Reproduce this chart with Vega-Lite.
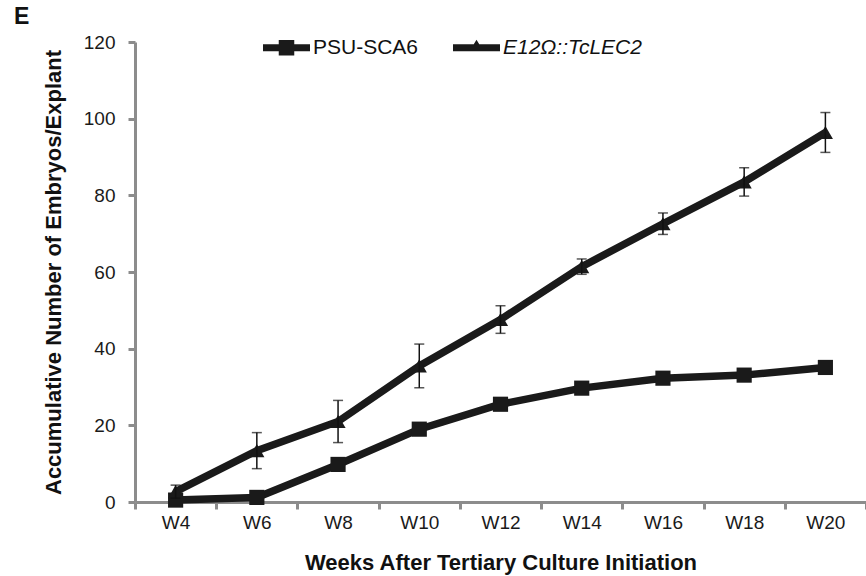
{
  "$schema": "https://vega.github.io/schema/vega-lite/v6.json",
  "width": 731,
  "height": 460,
  "autosize": {"type": "none"},
  "padding": {"left": 135, "top": 42, "right": 0, "bottom": 74},
  "background": "white",
  "title": {"text": "E", "anchor": "start", "frame": "group", "dx": -121, "offset": -23, "fontSize": 23, "fontWeight": "bold", "color": "#111111", "baseline": "alphabetic"},
  "config": {
    "font": "Liberation Sans",
    "view": {"stroke": null},
    "axis": {
      "grid": false,
      "domainColor": "#8c8c8c",
      "domainWidth": 3,
      "tickColor": "#8c8c8c",
      "tickWidth": 3,
      "tickSize": 7,
      "labelFontSize": 19,
      "labelColor": "#1a1a1a",
      "titleFontSize": 22,
      "titleFontWeight": "bold",
      "titleColor": "#111111"
    }
  },
  "data": {
    "values": [
      {"week": "W4", "series": "PSU-SCA6", "value": 0.5},
      {"week": "W6", "series": "PSU-SCA6", "value": 1.2},
      {"week": "W8", "series": "PSU-SCA6", "value": 9.8},
      {"week": "W10", "series": "PSU-SCA6", "value": 19.0},
      {"week": "W12", "series": "PSU-SCA6", "value": 25.5},
      {"week": "W14", "series": "PSU-SCA6", "value": 29.7},
      {"week": "W16", "series": "PSU-SCA6", "value": 32.3},
      {"week": "W18", "series": "PSU-SCA6", "value": 33.1},
      {"week": "W20", "series": "PSU-SCA6", "value": 35.1},
      {"week": "W4", "series": "E12Ω::TcLEC2", "value": 2.7, "err": 1.7},
      {"week": "W6", "series": "E12Ω::TcLEC2", "value": 13.4, "err": 4.7},
      {"week": "W8", "series": "E12Ω::TcLEC2", "value": 21.0, "err": 5.5},
      {"week": "W10", "series": "E12Ω::TcLEC2", "value": 35.5, "err": 5.7},
      {"week": "W12", "series": "E12Ω::TcLEC2", "value": 47.6, "err": 3.6},
      {"week": "W14", "series": "E12Ω::TcLEC2", "value": 61.4, "err": 2.0},
      {"week": "W16", "series": "E12Ω::TcLEC2", "value": 72.6, "err": 2.8},
      {"week": "W18", "series": "E12Ω::TcLEC2", "value": 83.5, "err": 3.7},
      {"week": "W20", "series": "E12Ω::TcLEC2", "value": 96.4, "err": 5.2}
    ]
  },
  "encoding": {
    "x": {
      "field": "week",
      "type": "ordinal",
      "sort": null,
      "scale": {"type": "band", "paddingInner": 0, "paddingOuter": 0},
      "axis": {"title": "Weeks After Tertiary Culture Initiation", "labelAngle": 0, "tickBand": "extent", "labelPadding": 4, "titlePadding": 20}
    },
    "y": {
      "field": "value",
      "type": "quantitative",
      "scale": {"domain": [0, 120]},
      "axis": {"title": "Accumulative Number of Embryos/Explant", "values": [0, 20, 40, 60, 80, 100, 120], "labelPadding": 13, "titlePadding": 18}
    }
  },
  "layer": [
    {
      "mark": {"type": "line", "strokeWidth": 7.5, "color": "#1a1a1a"},
      "encoding": {
        "detail": {"field": "series"}
      }
    },
    {
      "mark": {"type": "point", "filled": true, "opacity": 1, "color": "#1a1a1a", "size": 230},
      "encoding": {
        "shape": {"field": "series", "type": "nominal", "scale": {"domain": ["PSU-SCA6", "E12Ω::TcLEC2"], "range": ["square", "triangle-up"]}, "legend": null}
      }
    },
    {
      "transform": [{"filter": "isValid(datum.err)"}],
      "mark": {"type": "errorbar", "ticks": {"size": 10, "thickness": 1.5}, "color": "#111111", "thickness": 1.5},
      "encoding": {
        "y": {"field": "value", "type": "quantitative", "title": "Accumulative Number of Embryos/Explant"},
        "yError": {"field": "err"}
      }
    },
    {
      "mark": {"type": "point", "filled": true, "opacity": 0, "color": "#1a1a1a"},
      "encoding": {
        "shape": {
          "field": "series",
          "type": "nominal",
          "scale": {"domain": ["PSU-SCA6", "E12Ω::TcLEC2"], "range": ["M-1,-0.15H1V0.15H-1Z M-0.33,-0.33H0.33V0.33H-0.33Z", "M-1,-0.15H1V0.15H-1Z M0,-0.34L0.3,0.15H-0.3Z"]},
          "legend": {
            "title": null,
            "orient": "none",
            "legendX": 128,
            "legendY": -18,
            "direction": "horizontal",
            "padding": 0,
            "columnPadding": 34,
            "labelOffset": 3,
            "symbolSize": 2209,
            "symbolOpacity": 1,
            "symbolFillColor": "#1a1a1a",
            "symbolStrokeWidth": 0,
            "labelFontSize": 21,
            "labelColor": "#111111",
            "labelFontStyle": {"expr": "datum.label == 'PSU-SCA6' ? 'normal' : 'italic'"}
          }
        }
      }
    }
  ],
  "resolve": {"scale": {"shape": "independent"}}
}
